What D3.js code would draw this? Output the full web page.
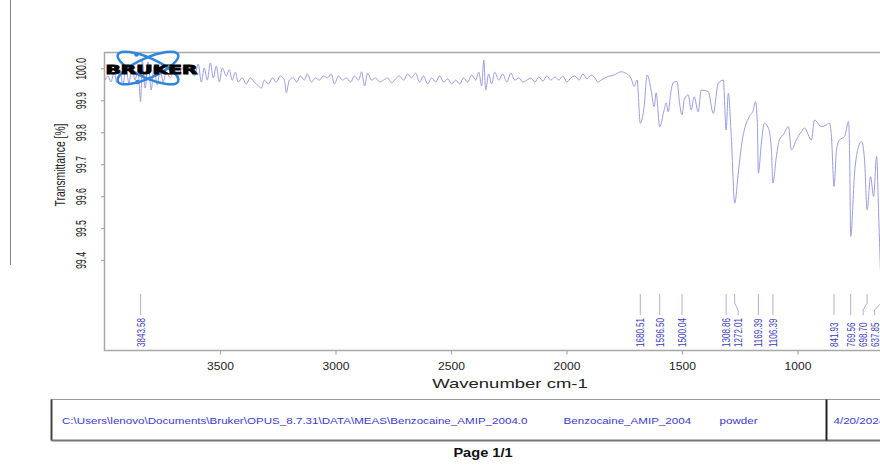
<!DOCTYPE html>
<html>
<head>
<meta charset="utf-8">
<script src="https://cdn.jsdelivr.net/npm/d3@7"></script>
<style>
  html, body { margin: 0; padding: 0; background: #fff; }
  svg { display: block; }
</style>
</head>
<body>
<svg id="chart" width="880" height="475"></svg>
<script>
// ---------------- DATA ----------------
const wavenumbers = [
  3998,3985,3972,3959,3946,3933,3920,3907,3894,3881,3868,3855,3843.58,3837,3824,3811,3798,3785,3772,3759,
  3746,3733,3715,3698,3681,3663,3646,3629,3611,3594,3581,3568,3555,3542,3529,3516,3503,3490,3473,3460,
  3447,3434,3421,3404,3386,3369,3352,3334,3321,3308,3291,3273,3256,3239,3221,3213,3200,3182,3169,3152,
  3135,3122,3104,3087,3070,3052,3035,3018,3005,2987,2970,2953,2935,2918,2900,2887,2874,2861,2844,2827,
  2809,2792,2775,2757,2740,2723,2705,2688,2671,2653,2636,2619,2601,2584,2566,2549,2532,2514,2497,2480,
  2462,2445,2428,2410,2393,2380,2367,2358,2350,2337,2324,2311,2293,2276,2258,2241,2224,2206,2189,2172,
  2154,2137,2120,2102,2085,2068,2050,2033,2016,1998,1981,1963,1946,1929,1911,1894,1877,1864,
  1850.5,1821.5,1794,1763.7,1742,1720.4,1707.4,1694.4,1680.51,1664,1651,1633.6,1620.6,1611.9,1596.50,
  1577.2,1568.5,1559.9,1546.9,1533.9,1520.9,1512.2,1500.04,1490.5,1473.2,1460.2,1447.2,1429.8,1416.7,
  1386.4,1364.7,1343,1321.3,1308.86,1299.6,1286.6,1272.01,1256.2,1243.2,1230.2,1208.5,1191.1,1182.5,
  1173.8,1169.39,1156.4,1143.4,1126.0,1113,1106.39,1091.4,1078.4,1061,1039.4,1026.4,1004.7,983,970,
  939.7,926.7,896.3,874.6,861.6,853,841.93,831.1,818.1,796.4,779.1,774.7,769.56,753,735.7,722.7,709.7,
  698.70,683.6,670.6,657.6,648.9,637.85
];
const transmittance = [
  99.963,99.976,99.957,99.988,99.954,99.995,99.948,100.007,99.951,100.013,99.963,99.995,99.896,100.026,99.938,100.020,99.932,100.007,99.948,99.995,
  99.957,99.988,99.970,99.995,99.976,100.001,99.982,100.004,99.976,100.013,99.957,100.001,99.963,100.017,99.970,100.007,99.957,100.001,99.976,99.995,
  99.963,99.988,99.957,99.970,99.951,99.970,99.957,99.945,99.938,99.963,99.951,99.970,99.957,99.976,99.963,99.924,99.963,99.970,99.957,99.976,
  99.963,99.982,99.957,99.970,99.963,99.976,99.970,99.982,99.951,99.976,99.963,99.970,99.957,99.976,99.963,99.989,99.945,99.985,99.963,99.970,
  99.957,99.963,99.970,99.954,99.967,99.976,99.963,99.982,99.970,99.985,99.957,99.976,99.951,99.970,99.957,99.976,99.957,99.967,99.951,99.963,
  99.951,99.970,99.957,99.979,99.963,99.988,99.945,100.026,99.932,99.982,99.951,99.988,99.963,99.982,99.957,99.985,99.963,99.970,99.957,99.963,
  99.970,99.957,99.973,99.960,99.976,99.963,99.973,99.963,99.976,99.957,99.970,99.976,99.963,99.982,99.967,99.979,99.970,99.957,
  99.963,99.974,99.979,99.989,99.984,99.969,99.943,99.963,99.828,99.880,99.979,99.932,99.880,99.923,99.8175,
  99.870,99.892,99.864,99.932,99.958,99.958,99.901,99.854,99.901,99.917,99.870,99.911,99.864,99.932,
  99.927,99.859,99.953,99.963,99.807,99.922,99.786,99.578,99.673,99.755,99.807,99.849,99.870,99.896,
  99.828,99.672,99.766,99.828,99.8125,99.745,99.641,99.724,99.776,99.792,99.8175,99.745,99.776,99.802,99.813,
  99.776,99.838,99.8175,99.823,99.829,99.786,99.630,99.745,99.776,99.786,99.833,99.745,99.474,99.672,99.755,99.771,99.713,
  99.557,99.661,99.599,99.724,99.548,99.29
];
const peakLabels = [3843.58,1680.51,1596.50,1500.04,1308.86,1272.01,1169.39,1106.39,841.93,769.56,698.70,637.85];
const xTicks = [3500,3000,2500,2000,1500,1000];
const yTicks = [99.4,99.5,99.6,99.7,99.8,99.9,100.0];
const xTitle = "Wavenumber cm-1";
const yTitle = "Transmittance [%]";
const footerPath = "C:\\Users\\lenovo\\Documents\\Bruker\\OPUS_8.7.31\\DATA\\MEAS\\Benzocaine_AMIP_2004.0";
const footerName = "Benzocaine_AMIP_2004";
const footerForm = "powder";
const footerDate = "4/20/2024";
const pageText = "Page 1/1";

// ---------------- LAYOUT ----------------
const svg = d3.select("#chart");
const plot = { left: 104.5, top: 52.5, right: 882, bottom: 350.5 };
const x = d3.scaleLinear().domain([4000, 1000]).range([104.5, 797.5]);
const y = d3.scaleLinear().domain([99.4, 100.0]).range([260, 68.3]);
const sans = "'Liberation Sans', Arial, Helvetica, sans-serif";

// thin line at far left
svg.append("line").attr("x1", 10.5).attr("x2", 10.5).attr("y1", 0).attr("y2", 265)
  .attr("stroke", "#888").attr("stroke-width", 1);

// clip
svg.append("defs").append("clipPath").attr("id", "plotclip")
  .append("rect").attr("x", plot.left).attr("y", plot.top)
  .attr("width", plot.right - plot.left).attr("height", plot.bottom - plot.top);

// spectrum
const pts = wavenumbers.map((w, i) => [w, transmittance[i]]);
svg.append("path")
  .datum(pts)
  .attr("clip-path", "url(#plotclip)")
  .attr("fill", "none")
  .attr("stroke", "#9c9cdf")
  .attr("stroke-width", 1)
  .attr("stroke-linejoin", "round")
  .attr("d", d3.line().curve(d3.curveMonotoneX).x(d => x(d[0])).y(d => y(d[1])));

// frame (left, top, bottom)
const frameColor = "#a8a8a8";
svg.append("path")
  .attr("d", `M${plot.right},${plot.top}H${plot.left}V${plot.bottom}H${plot.right}`)
  .attr("fill", "none").attr("stroke", frameColor).attr("stroke-width", 1.5);

// x axis
const xAxis = d3.axisBottom(x).tickValues(xTicks).tickSize(4).tickSizeOuter(0).tickFormat(d3.format("d"));
const gx = svg.append("g").attr("transform", `translate(0,${plot.bottom})`).call(xAxis);
gx.select(".domain").remove();
gx.selectAll(".tick line").attr("stroke", frameColor).attr("stroke-width", 1.2);
gx.selectAll(".tick text").remove();
gx.selectAll(".tick").append("text")
  .attr("transform", "translate(0,19) scale(1.05,0.9)")
  .attr("text-anchor", "middle").attr("fill", "#222")
  .attr("font-family", sans).attr("font-size", 11.5)
  .text(d => d3.format("d")(d));

// y axis
const yAxis = d3.axisLeft(y).tickValues(yTicks).tickSize(3.5).tickSizeOuter(0).tickFormat(d3.format(".1f"));
const gy = svg.append("g").attr("transform", `translate(${plot.left},0)`).call(yAxis);
gy.select(".domain").remove();
gy.selectAll(".tick line").attr("stroke", frameColor).attr("stroke-width", 1.2);
gy.selectAll(".tick text").remove();
gy.selectAll(".tick").append("text")
  .attr("transform", "translate(-19,0) rotate(-90) scale(0.63,1)")
  .attr("text-anchor", "middle")
  .attr("fill", "#222")
  .attr("font-family", sans)
  .attr("font-size", 14)
  .text(d => d3.format(".1f")(d));

// axis titles
svg.append("text").attr("transform", "translate(510,388) scale(1,0.72)").attr("text-anchor", "middle")
  .attr("font-family", sans).attr("font-size", 18.5).attr("fill", "#222").text(xTitle);
svg.append("text").attr("transform", "translate(65,165) rotate(-90) scale(0.74,1)").attr("text-anchor", "middle")
  .attr("font-family", sans).attr("font-size", 14).attr("fill", "#222").text(yTitle);

// peak labels
const labelNudge = { "1272.01": 3.5, "698.70": -4, "637.85": -6.5 };
const peakColor = "#3b3bbf";
const pk = svg.append("g");
peakLabels.forEach(w => {
  const px = x(w);
  const key = w.toFixed(2);
  const tx = px + (labelNudge[key] || 0);
  pk.append("path")
    .attr("d", `M${px},294V303L${tx},310V315`)
    .attr("fill", "none").attr("stroke", "#9a9ac4").attr("stroke-width", 0.8);
  pk.append("text")
    .attr("transform", `translate(${tx + 3.9},347) rotate(-90) scale(0.73,1)`)
    .attr("font-family", sans).attr("font-size", 11).attr("fill", peakColor)
    .text(key);
});

// Bruker logo
const logo = svg.append("g");
const lc = { x: 148, y: 68 };
[-24, 24].forEach(a => {
  logo.append("ellipse").attr("cx", lc.x).attr("cy", lc.y).attr("rx", 33).attr("ry", 10)
    .attr("transform", `rotate(${a},${lc.x},${lc.y})`)
    .attr("fill", "none").attr("stroke", "#2f86db").attr("stroke-width", 2.6);
});
logo.append("circle").attr("cx", 136.5).attr("cy", 54.5).attr("r", 2.3).attr("fill", "#2f86db");
logo.append("circle").attr("cx", 137.5).attr("cy", 82).attr("r", 2.3).attr("fill", "#2f86db");
logo.append("text").attr("x", 105.5).attr("y", 73.5)
  .attr("font-family", "'DejaVu Sans', Arial, sans-serif").attr("font-weight", 900)
  .attr("font-size", 11.5).attr("fill", "#000")
  .attr("textLength", 92).attr("lengthAdjust", "spacingAndGlyphs")
  .style("stroke", "#000").style("stroke-width", 0.9)
  .text("BRUKER");

// footer box
const box = { x: 51.5, y: 399.5, w: 840, h: 41 };
svg.append("rect").attr("x", box.x).attr("y", box.y).attr("width", box.w).attr("height", box.h)
  .attr("fill", "none").attr("stroke", "#9a9a9a").attr("stroke-width", 1);
svg.append("line").attr("x1", box.x).attr("x2", box.x).attr("y1", box.y).attr("y2", box.y + box.h)
  .attr("stroke", "#444").attr("stroke-width", 2);
svg.append("line").attr("x1", box.x).attr("x2", box.x + box.w).attr("y1", box.y + box.h).attr("y2", box.y + box.h)
  .attr("stroke", "#777").attr("stroke-width", 2);
svg.append("line").attr("x1", 826.5).attr("x2", 826.5).attr("y1", box.y).attr("y2", box.y + box.h)
  .attr("stroke", "#222").attr("stroke-width", 2);
const footColor = "#3a3ad0";
const ft = svg.append("g").attr("font-family", sans).attr("font-size", 11.6).attr("fill", footColor);
[[62, footerPath], [563.5, footerName], [719.5, footerForm], [833.5, footerDate]].forEach(([fx, t]) => {
  ft.append("text").attr("transform", `translate(${fx},423.5) scale(1,0.8)`).text(t);
});

svg.append("text").attr("transform", "translate(483,456.5) scale(1,0.82)").attr("text-anchor", "middle")
  .attr("font-family", sans).attr("font-weight", "bold").attr("font-size", 14.6).attr("fill", "#111")
  .text(pageText);
</script>
</body>
</html>
